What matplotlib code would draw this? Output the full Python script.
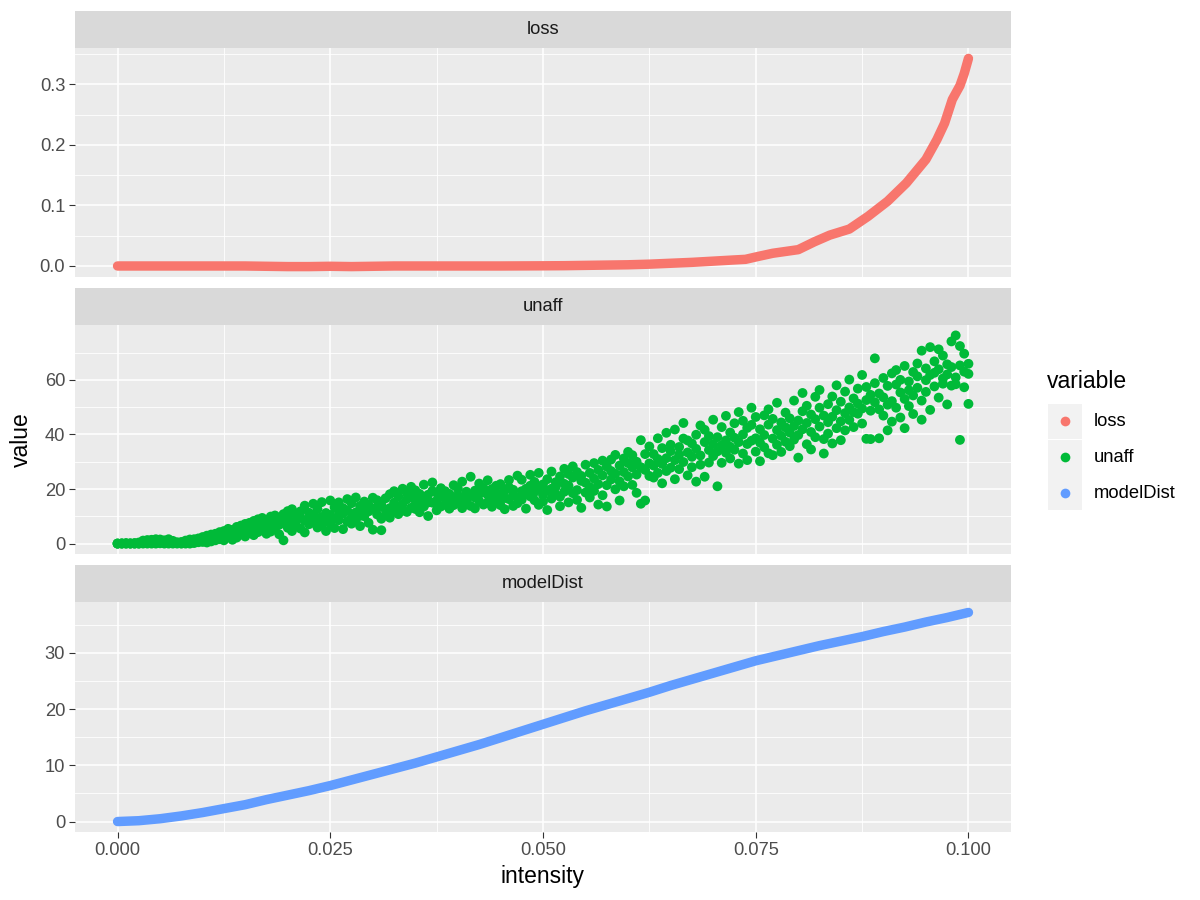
import matplotlib
matplotlib.use('Agg')
import matplotlib.pyplot as plt
import numpy as np
from matplotlib.patches import Rectangle
from matplotlib.lines import Line2D
from matplotlib.ticker import FixedLocator, FormatStrFormatter

plt.rcParams['font.family'] = ['Liberation Sans', 'DejaVu Sans']

variables = ['loss', 'unaff', 'modelDist']
colors = ['#F8766D', '#00BA38', '#619CFF']

x_ticks = [0.000, 0.025, 0.050, 0.075, 0.100]
y_ticks = [[0.0, 0.1, 0.2, 0.3], [0, 20, 40, 60], [0, 10, 20, 30]]
y_formats = ['%.1f', '%d', '%d']

loss_intensity = [0.000, 0.005, 0.010, 0.015, 0.0175, 0.020, 0.0225, 0.025, 0.0275, 0.030,
                  0.0325, 0.035, 0.040, 0.045, 0.050, 0.0525, 0.055, 0.0575, 0.060, 0.0625,
                  0.065, 0.0675, 0.070, 0.0725, 0.0738, 0.0752, 0.0770, 0.0800, 0.0819, 0.0837,
                  0.0860, 0.0882, 0.0905, 0.0927, 0.0950, 0.0963, 0.0972, 0.0981, 0.0990, 0.0995,
                  0.1000]
loss_value = [0.0, 0.0, 0.0, 0.0, -0.0005, -0.001, -0.001, -0.0005, -0.001, -0.0005,
              0.0, 0.0, 0.0, 0.0, 0.0003, 0.0005, 0.001, 0.0015, 0.002, 0.003,
              0.0045, 0.006, 0.008, 0.010, 0.011, 0.0155, 0.021, 0.027, 0.040, 0.051,
              0.061, 0.082, 0.107, 0.137, 0.176, 0.209, 0.236, 0.275, 0.298, 0.318,
              0.343]

model_intensity = [0.000, 0.0025, 0.005, 0.0075, 0.010, 0.0125, 0.015, 0.0175, 0.020, 0.0225,
                   0.025, 0.0275, 0.030, 0.0325, 0.035, 0.0375, 0.040, 0.0425, 0.045, 0.0475,
                   0.050, 0.0525, 0.055, 0.0575, 0.060, 0.0625, 0.065, 0.0675, 0.070, 0.0725,
                   0.075, 0.0775, 0.080, 0.0825, 0.085, 0.0875, 0.090, 0.0925, 0.095, 0.0975,
                   0.100]
model_value = [0.0, 0.15, 0.5, 1.0, 1.6, 2.3, 3.0, 3.9, 4.7, 5.5,
               6.4, 7.4, 8.4, 9.4, 10.4, 11.5, 12.6, 13.7, 14.9, 16.1,
               17.3, 18.5, 19.7, 20.8, 21.9, 23.0, 24.2, 25.3, 26.4, 27.5,
               28.6, 29.5, 30.4, 31.3, 32.1, 32.9, 33.8, 34.6, 35.5, 36.3,
               37.2]

unaff_intensity = [
    0.0000, 0.0005, 0.0010, 0.0015, 0.0020, 0.0025, 0.0030, 0.0035, 0.0040, 0.0045,
    0.0050, 0.0055, 0.0060, 0.0065, 0.0070, 0.0075, 0.0080, 0.0085, 0.0090, 0.0095,
    0.0100, 0.0105, 0.0110, 0.0115, 0.0120, 0.0125, 0.0130, 0.0135, 0.0140, 0.0145,
    0.0150, 0.0155, 0.0160, 0.0165, 0.0170, 0.0175, 0.0180, 0.0185, 0.0190, 0.0195,
    0.0200, 0.0205, 0.0210, 0.0215, 0.0220, 0.0225, 0.0230, 0.0235, 0.0240, 0.0245,
    0.0250, 0.0255, 0.0260, 0.0265, 0.0270, 0.0275, 0.0280, 0.0285, 0.0290, 0.0295,
    0.0300, 0.0305, 0.0310, 0.0315, 0.0320, 0.0325, 0.0330, 0.0335, 0.0340, 0.0345,
    0.0350, 0.0355, 0.0360, 0.0365, 0.0370, 0.0375, 0.0380, 0.0385, 0.0390, 0.0395,
    0.0400, 0.0405, 0.0410, 0.0415, 0.0420, 0.0425, 0.0430, 0.0435, 0.0440, 0.0445,
    0.0450, 0.0455, 0.0460, 0.0465, 0.0470, 0.0475, 0.0480, 0.0485, 0.0490, 0.0495,
    0.0500, 0.0505, 0.0510, 0.0515, 0.0520, 0.0525, 0.0530, 0.0535, 0.0540, 0.0545,
    0.0550, 0.0555, 0.0560, 0.0565, 0.0570, 0.0575, 0.0580, 0.0585, 0.0590, 0.0595,
    0.0600, 0.0605, 0.0610, 0.0615, 0.0620, 0.0625, 0.0630, 0.0635, 0.0640, 0.0645,
    0.0650, 0.0655, 0.0660, 0.0665, 0.0670, 0.0675, 0.0680, 0.0685, 0.0690, 0.0695,
    0.0700, 0.0705, 0.0710, 0.0715, 0.0720, 0.0725, 0.0730, 0.0735, 0.0740, 0.0745,
    0.0750, 0.0755, 0.0760, 0.0765, 0.0770, 0.0775, 0.0780, 0.0785, 0.0790, 0.0795,
    0.0800, 0.0805, 0.0810, 0.0815, 0.0820, 0.0825, 0.0830, 0.0835, 0.0840, 0.0845,
    0.0850, 0.0855, 0.0860, 0.0865, 0.0870, 0.0875, 0.0880, 0.0885, 0.0890, 0.0895,
    0.0900, 0.0905, 0.0910, 0.0915, 0.0920, 0.0925, 0.0930, 0.0935, 0.0940, 0.0945,
    0.0950, 0.0955, 0.0960, 0.0965, 0.0970, 0.0975, 0.0980, 0.0985, 0.0990, 0.0995,
    0.1000]

unaff_values = [
    (0, 0, 0), (0, 0.1, 0), (0, 0, 0.2), (0.1, 0, 0), (0, 0.2, 0),
    (0, 0, 0.4), (0.2, 0, 1.1), (0, 1.3, 0.3), (1.4, 0, 0.5), (0.2, 1.6, 0),
    (1.5, 0.1, 0.7), (0, 1.2, 0.4), (1.6, 0.3, 0), (0.2, 1.0, 0), (0, 0.5, 0.2),
    (0.1, 0, 0.6), (0.3, 1.1, 0), (0.8, 0, 1.5), (0.2, 1.6, 0.6), (1.9, 0.5, 0.9),
    (0.6, 2.4, 1.2), (1.5, 2.9, 0.4), (2.2, 0.8, 3.3), (1.2, 3.6, 2.4), (4.2, 1.6, 2.8),
    (3.3, 4.6, 1.2), (2.5, 4.4, 5.4), (5.0, 3.0, 1.4), (3.8, 6.1, 2.2), (6.6, 3.4, 4.8),
    (2.6, 5.6, 7.2), (4.7, 7.6, 3.9), (6.9, 3.1, 8.3), (5.4, 8.9, 4.2), (7.6, 4.8, 9.4),
    (8.6, 3.6, 6.5), (6.1, 9.9, 4.4), (8.2, 10.3, 5.2), (6.9, 9.1, 3.4), (1.2, 7.9, 10.8),
    (9.9, 5.8, 11.9), (7.4, 12.6, 4.6), (10.6, 6.6, 8.7), (5.5, 11.8, 9.4), (8.4, 13.9, 4.1),
    (11.3, 7.1, 9.8), (7.7, 14.6, 10.3), (12.6, 5.9, 9.0), (9.7, 15.2, 6.7), (4.6, 11.2, 8.4),
    (10.5, 7.4, 15.8), (13.3, 9.2, 5.7), (8.6, 11.9, 15.1), (11.0, 5.3, 13.0), (12.1, 8.1, 16.3),
    (9.5, 14.8, 7.3), (11.4, 8.8, 16.9), (13.8, 10.2, 6.4), (10.0, 15.4, 12.5), (7.6, 11.8, 14.2),
    (12.8, 5.1, 16.8), (10.7, 15.9, 13.1), (14.2, 4.9, 9.1), (16.6, 12.4, 10.4), (13.0, 18.1, 9.5),
    (15.0, 11.8, 19.2), (17.3, 13.6, 10.8), (14.4, 20.1, 12.1), (16.2, 11.6, 18.6), (13.1, 17.2, 20.8),
    (15.8, 19.5, 12.7), (18.2, 14.3, 11.5), (16.9, 21.6, 13.6), (10.1, 17.9, 15.1), (19.3, 15.0, 22.4),
    (15.7, 18.6, 12.2), (17.2, 13.6, 20.3), (14.3, 19.2, 16.6), (18.2, 12.8, 15.5), (16.2, 21.4, 14.1),
    (15.0, 17.7, 20.1), (13.0, 16.9, 22.7), (19.0, 14.4, 16.3), (13.8, 24.5, 17.5), (16.9, 19.4, 12.9),
    (15.6, 22.0, 18.2), (18.8, 14.3, 20.4), (15.1, 17.9, 23.2), (17.4, 13.5, 20.0), (21.2, 15.9, 18.6),
    (14.1, 18.2, 21.8), (19.4, 12.6, 16.7), (16.3, 20.6, 23.3), (17.9, 13.8, 19.7), (24.9, 16.8, 14.8),
    (19.2, 23.4, 16.1), (12.8, 20.1, 18.2), (21.2, 17.3, 25.2), (15.9, 18.9, 22.6), (20.4, 14.2, 25.9),
    (17.8, 21.7, 15.4), (23.6, 19.4, 12.3), (20.1, 16.5, 26.4), (22.5, 18.1, 20.8), (17.2, 24.6, 13.7),
    (21.9, 27.4, 19.0), (15.1, 21.2, 25.5), (24.2, 18.5, 28.3), (19.6, 26.2, 16.0), (23.0, 13.1, 24.8),
    (18.7, 28.9, 22.3), (25.9, 20.7, 16.9), (23.8, 29.5, 19.3), (27.0, 21.8, 14.3), (25.0, 17.7, 30.4),
    (21.4, 28.2, 13.6), (26.6, 23.5, 30.8), (19.9, 32.5, 25.6), (28.6, 22.8, 15.8), (31.2, 26.2, 21.0),
    (24.6, 29.5, 33.6), (27.9, 21.5, 32.4), (30.0, 25.3, 18.6), (37.9, 14.6, 28.0), (27.0, 32.8, 15.8),
    (29.4, 35.6, 24.8), (32.8, 24.2, 28.6), (25.9, 38.6, 31.0), (35.0, 29.2, 22.1), (31.3, 40.6, 26.6),
    (27.8, 33.9, 36.2), (41.8, 30.6, 23.6), (35.4, 27.3, 32.6), (29.9, 38.5, 44.2), (33.4, 25.0, 37.8),
    (36.7, 31.8, 28.0), (39.9, 34.7, 22.7), (32.3, 43.3, 28.9), (37.2, 24.5, 41.7), (34.3, 29.7, 39.4),
    (32.1, 45.4, 36.5), (39.0, 21.0, 33.8), (42.7, 36.0, 29.6), (37.8, 46.8, 33.3), (40.7, 31.2, 35.5),
    (34.4, 44.1, 38.8), (48.2, 37.2, 29.3), (40.0, 33.0, 45.0), (36.5, 42.4, 30.6), (43.5, 37.7, 49.8),
    (38.6, 33.7, 46.4), (41.9, 30.2, 37.0), (47.0, 39.8, 35.3), (33.1, 43.6, 49.2), (38.5, 45.7, 32.4),
    (41.6, 36.2, 51.6), (44.4, 39.5, 33.6), (37.3, 48.0, 42.6), (45.9, 35.7, 40.7), (43.1, 52.4, 38.1),
    (39.8, 45.1, 31.5), (48.5, 41.9, 55.2), (36.4, 44.2, 50.5), (40.9, 47.3, 34.5), (53.8, 45.6, 39.0),
    (42.9, 49.8, 56.3), (38.3, 46.9, 33.0), (51.1, 44.5, 40.3), (46.5, 53.9, 36.7), (48.9, 42.3, 58.0),
    (44.8, 52.0, 37.9), (55.7, 47.8, 41.5), (49.9, 45.3, 60.1), (53.2, 42.7, 48.2), (47.6, 56.8, 51.3),
    (44.0, 61.8, 49.5), (52.6, 38.4, 57.4), (48.7, 54.5, 38.3), (58.8, 67.9, 51.8), (55.0, 49.2, 38.6),
    (46.9, 60.7, 53.6), (57.8, 41.5, 50.9), (62.4, 52.2, 44.7), (49.8, 58.3, 63.6), (55.4, 46.2, 60.0),
    (53.0, 65.1, 42.3), (59.4, 50.4, 56.2), (62.9, 54.3, 47.5), (66.0, 57.1, 61.3), (52.4, 70.7, 45.4),
    (59.9, 64.2, 55.6), (72.0, 49.0, 61.8), (57.6, 66.8, 62.6), (63.9, 53.5, 71.2), (58.6, 60.5, 68.9),
    (65.7, 51.0, 62.0), (74.1, 57.9, 64.7), (60.9, 76.3, 58.4), (38.0, 65.3, 72.4), (57.3, 69.6, 63.0),
    (51.2, 65.9, 62.2)]

# ---------------------------------------------------------------------------
W, H = 1200, 900
fig = plt.figure(figsize=(12, 9), dpi=100)
fig.patch.set_facecolor('white')


def frac(x0, y0, x1, y1):
    return [x0 / W, 1 - y1 / H, (x1 - x0) / W, (y1 - y0) / H]


PX0, PX1 = 75, 1011
panel_rows = [(48, 277), (325, 554), (602, 832)]
strip_rows = [(11, 48), (288, 325), (565, 602)]

ux = np.repeat(np.array(unaff_intensity), 3)
uy = np.array(unaff_values, dtype=float).ravel()

series_x = [np.array(loss_intensity), ux, np.array(model_intensity)]
series_y = [np.array(loss_value), uy, np.array(model_value)]

all_x = np.concatenate(series_x)
xlo, xhi = all_x.min(), all_x.max()
xpad = 0.05 * (xhi - xlo)

TXT = 13.2
for i, name in enumerate(variables):
    top, bot = panel_rows[i]
    ax = fig.add_axes(frac(PX0, top, PX1, bot))
    ax.set_facecolor('#EBEBEB')
    for sp in ax.spines.values():
        sp.set_visible(False)
    ax.set_axisbelow(True)

    xs, ys = series_x[i], series_y[i]
    if name == 'unaff':
        ax.scatter(xs, ys, s=50, color=colors[i], edgecolors='none', zorder=3)
    else:
        ax.plot(xs, ys, color=colors[i], lw=6.8, solid_capstyle='round',
                solid_joinstyle='round', zorder=3)

    ylo, yhi = ys.min(), ys.max()
    ypad = 0.05 * (yhi - ylo)
    ax.set_xlim(xlo - xpad, xhi + xpad)
    ax.set_ylim(ylo - ypad, yhi + ypad)

    ax.xaxis.set_major_locator(FixedLocator(x_ticks))
    xm = [(a + b) / 2 for a, b in zip(x_ticks[:-1], x_ticks[1:])]
    ax.xaxis.set_minor_locator(FixedLocator(xm))
    yt = y_ticks[i]
    step = yt[1] - yt[0]
    ym = [yt[0] - step / 2] + [v + step / 2 for v in yt]
    ax.yaxis.set_major_locator(FixedLocator(yt))
    ax.yaxis.set_minor_locator(FixedLocator(ym))
    ax.yaxis.set_major_formatter(FormatStrFormatter(y_formats[i]))

    ax.grid(which='major', color='white', lw=1.15)
    ax.grid(which='minor', color='white', lw=0.6)
    ax.tick_params(which='minor', length=0)
    ax.tick_params(axis='y', which='major', length=4.1, width=0.8, color='#333333',
                   labelsize=TXT, labelcolor='#4D4D4D', pad=3)
    if i == 2:
        ax.xaxis.set_major_formatter(FormatStrFormatter('%.3f'))
        ax.tick_params(axis='x', which='major', length=4.1, width=0.8, color='#333333',
                       labelsize=TXT, labelcolor='#4D4D4D', pad=3)
    else:
        ax.tick_params(axis='x', which='major', length=0, labelbottom=False)

    stop, sbot = strip_rows[i]
    sax = fig.add_axes(frac(PX0, stop, PX1, sbot))
    sax.set_facecolor('#D9D9D9')
    for sp in sax.spines.values():
        sp.set_visible(False)
    sax.set_xticks([])
    sax.set_yticks([])
    sax.text(0.5, 0.5, name, ha='center', va='center', fontsize=TXT,
             color='#1A1A1A', transform=sax.transAxes)

fig.text(543 / W, 1 - 876 / H, 'intensity', ha='center', va='center', fontsize=16.5, color='black')
fig.text(21 / W, 1 - 440 / H, 'value', ha='center', va='center', rotation=90,
         fontsize=16.5, color='black')

# legend
fig.text(1047 / W, 1 - 381 / H, 'variable', ha='left', va='center', fontsize=16.5, color='black')
key_centers = [421, 457, 493]
for name, col, yc in zip(variables, colors, key_centers):
    fig.patches.append(Rectangle((1048 / W, 1 - (yc + 17.5) / H), 34 / W, 35 / H,
                                 transform=fig.transFigure, facecolor='#F2F2F2',
                                 edgecolor='none'))
    fig.lines.append(Line2D([1065 / W], [1 - yc / H], transform=fig.transFigure,
                            marker='o', markersize=7.0, color=col, markeredgewidth=0,
                            linestyle='none'))
    fig.text(1094 / W, 1 - yc / H, name, ha='left', va='center', fontsize=TXT, color='black')

fig.savefig('out.png', dpi=100)
